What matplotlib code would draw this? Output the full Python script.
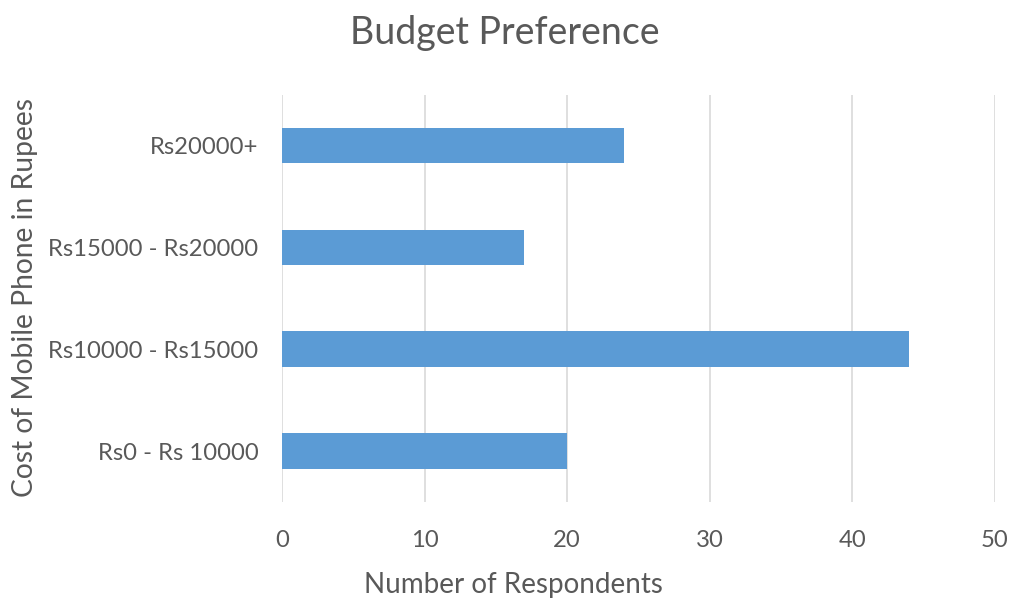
import matplotlib.pyplot as plt

# budget brackets (bottom to top) and number of respondents for each
budgets = ['Rs0 - Rs 10000', 'Rs10000 - Rs15000', 'Rs15000 - Rs20000', 'Rs20000+']
respondents = [20, 44, 17, 24]
x_ticks = [0, 10, 20, 30, 40, 50]

plt.rcParams['font.family'] = ['Lato', 'DejaVu Sans']
text_col = '#595959'

fig = plt.figure(figsize=(10.12, 6.02), dpi=100)
ax = fig.add_axes([0.2787, 0.166, 0.7045, 0.677])

ax.barh(range(len(budgets)), respondents, height=0.35, color='#5b9bd5', zorder=3)

ax.set_xlim(0, 50)
ax.set_ylim(-0.5, len(budgets) - 0.5)
ax.set_xticks(x_ticks)
ax.set_yticks(range(len(budgets)))
ax.set_yticklabels(budgets)
ax.grid(axis='x', color='#d9d9d9', linewidth=1.2, zorder=0)
for s in ax.spines.values():
    s.set_visible(False)
ax.tick_params(axis='both', length=0, labelsize=17.2, labelcolor=text_col)
ax.tick_params(axis='y', pad=17)
ax.tick_params(axis='x', pad=20)

fig.text(0.507, 0.006, 'Number of Respondents', fontsize=20, color=text_col,
         ha='center', va='bottom')
fig.text(0.025, 0.505, 'Cost of Mobile Phone in Rupees', fontsize=20.3, color=text_col,
         ha='center', va='center', rotation=90)
fig.text(0.499, 0.945, 'Budget Preference', fontsize=27, color=text_col,
         ha='center', va='center')

fig.savefig('out.png', dpi=100)
